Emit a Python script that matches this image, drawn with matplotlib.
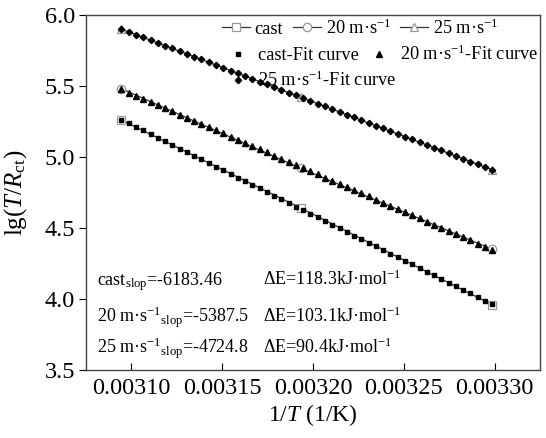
import numpy as np
import matplotlib
matplotlib.use("Agg")
import matplotlib.pyplot as plt

plt.rcParams["font.family"] = ["Liberation Serif", "DejaVu Serif"]
plt.rcParams["mathtext.fontset"] = "custom"
plt.rcParams["mathtext.rm"] = "Liberation Serif"
plt.rcParams["mathtext.it"] = "Liberation Serif:italic"
plt.rcParams["mathtext.bf"] = "Liberation Serif:bold"

# ---------------------------------------------------------------------------
# Data
# ---------------------------------------------------------------------------
inv_T = [1 / 323.15, 1 / 313.15, 1 / 303.15]
cast_vals = [5.26, 4.64, 3.96]
v20_vals = [5.48, 4.92, 4.35]
v25_vals = [5.90, 5.42, 4.91]

series_labels = ["cast", "20 m\u00b7s$^{-1}$", "25 m\u00b7s$^{-1}$"]
fit_labels = [s + "-Fit curve" for s in series_labels]
slopes_txt = ["-6183.46", "-5387.5", "-4724.8"]
energy_txt = ["118.3", "103.1", "90.4"]
n_fit = 52

fig = plt.figure(figsize=(5.46, 4.38), dpi=100)
ax = fig.add_axes([0.1575, 0.155, 0.8315, 0.811])

data_markers = ["s", "o", "^"]
fit_markers = ["s", "^", "D"]
fit_sizes = [3.0, 4.0, 3.2]
line_handles, fit_handles = [], []
for vals, dm, fm, fs, lab, flab in zip([cast_vals, v20_vals, v25_vals], data_markers,
                                         fit_markers, fit_sizes, series_labels, fit_labels):
    h, = ax.plot(inv_T, vals, "-", color="#333333", lw=0.9, marker=dm, ms=6,
                 mfc="white", mec="#999999", mew=0.9, label=lab, zorder=2)
    k, b = np.polyfit(inv_T, vals, 1)
    xf = np.linspace(inv_T[0], inv_T[-1], n_fit)
    f, = ax.plot(xf, k * xf + b, linestyle="none", marker=fm, ms=fs, color="black",
                 label=flab, zorder=3)
    line_handles.append(h)
    fit_handles.append(f)

ax.set_xlim(0.003075, 0.003325)
ax.set_ylim(3.5, 6.0)
ax.set_xticks([0.00310, 0.00315, 0.00320, 0.00325, 0.00330])
ax.set_xticklabels(["0.00310", "0.00315", "0.00320", "0.00325", "0.00330"])
ax.set_yticks([3.5, 4.0, 4.5, 5.0, 5.5, 6.0])
ax.tick_params(axis="x", direction="in", length=5, labelsize=17.5, pad=6)
ax.tick_params(axis="y", direction="out", length=5, labelsize=17.5, pad=3)
for s in ax.spines.values():
    s.set_color("#444444")
    s.set_linewidth(1.0)

ax.set_xlabel("$\\mathit{1/T}$ (1/K)", fontsize=17, labelpad=2)
ax.set_ylabel("lg($\\mathit{T/R}_{\\rm ct}$)", fontsize=18, labelpad=11)

leg_fs = 13.2
leg1 = ax.legend(handles=line_handles, ncol=3, loc="upper left",
                 bbox_to_anchor=(0.299, 0.99), frameon=False, fontsize=leg_fs,
                 handlelength=1.53, handletextpad=0.27, columnspacing=0.5,
                 borderpad=0, borderaxespad=0)
ax.add_artist(leg1)
leg2 = ax.legend(handles=fit_handles[:2], ncol=2, loc="upper left",
                 bbox_to_anchor=(0.315, 0.915), frameon=False, fontsize=leg_fs,
                 handlelength=1.0, handletextpad=0.6, columnspacing=0.6,
                 borderpad=0, borderaxespad=0)
ax.add_artist(leg2)
ax.legend(handles=fit_handles[2:], loc="upper left",
          bbox_to_anchor=(0.315, 0.843), frameon=False, fontsize=leg_fs,
          handlelength=1.0, handletextpad=0.6, borderpad=0, borderaxespad=0)

row_y = [0.239, 0.135, 0.048]
for lab, sl, en, y in zip(series_labels, slopes_txt, energy_txt, row_y):
    ax.text(0.024, y, lab + "$_{\\rm slop}$=" + sl, transform=ax.transAxes,
            fontsize=13, va="baseline", ha="left")
    ax.text(0.39, y, "\u0394E=" + en + "kJ\u00b7mol$^{-1}$", transform=ax.transAxes,
            fontsize=13, va="baseline", ha="left")

fig.savefig("out.png", dpi=100)
